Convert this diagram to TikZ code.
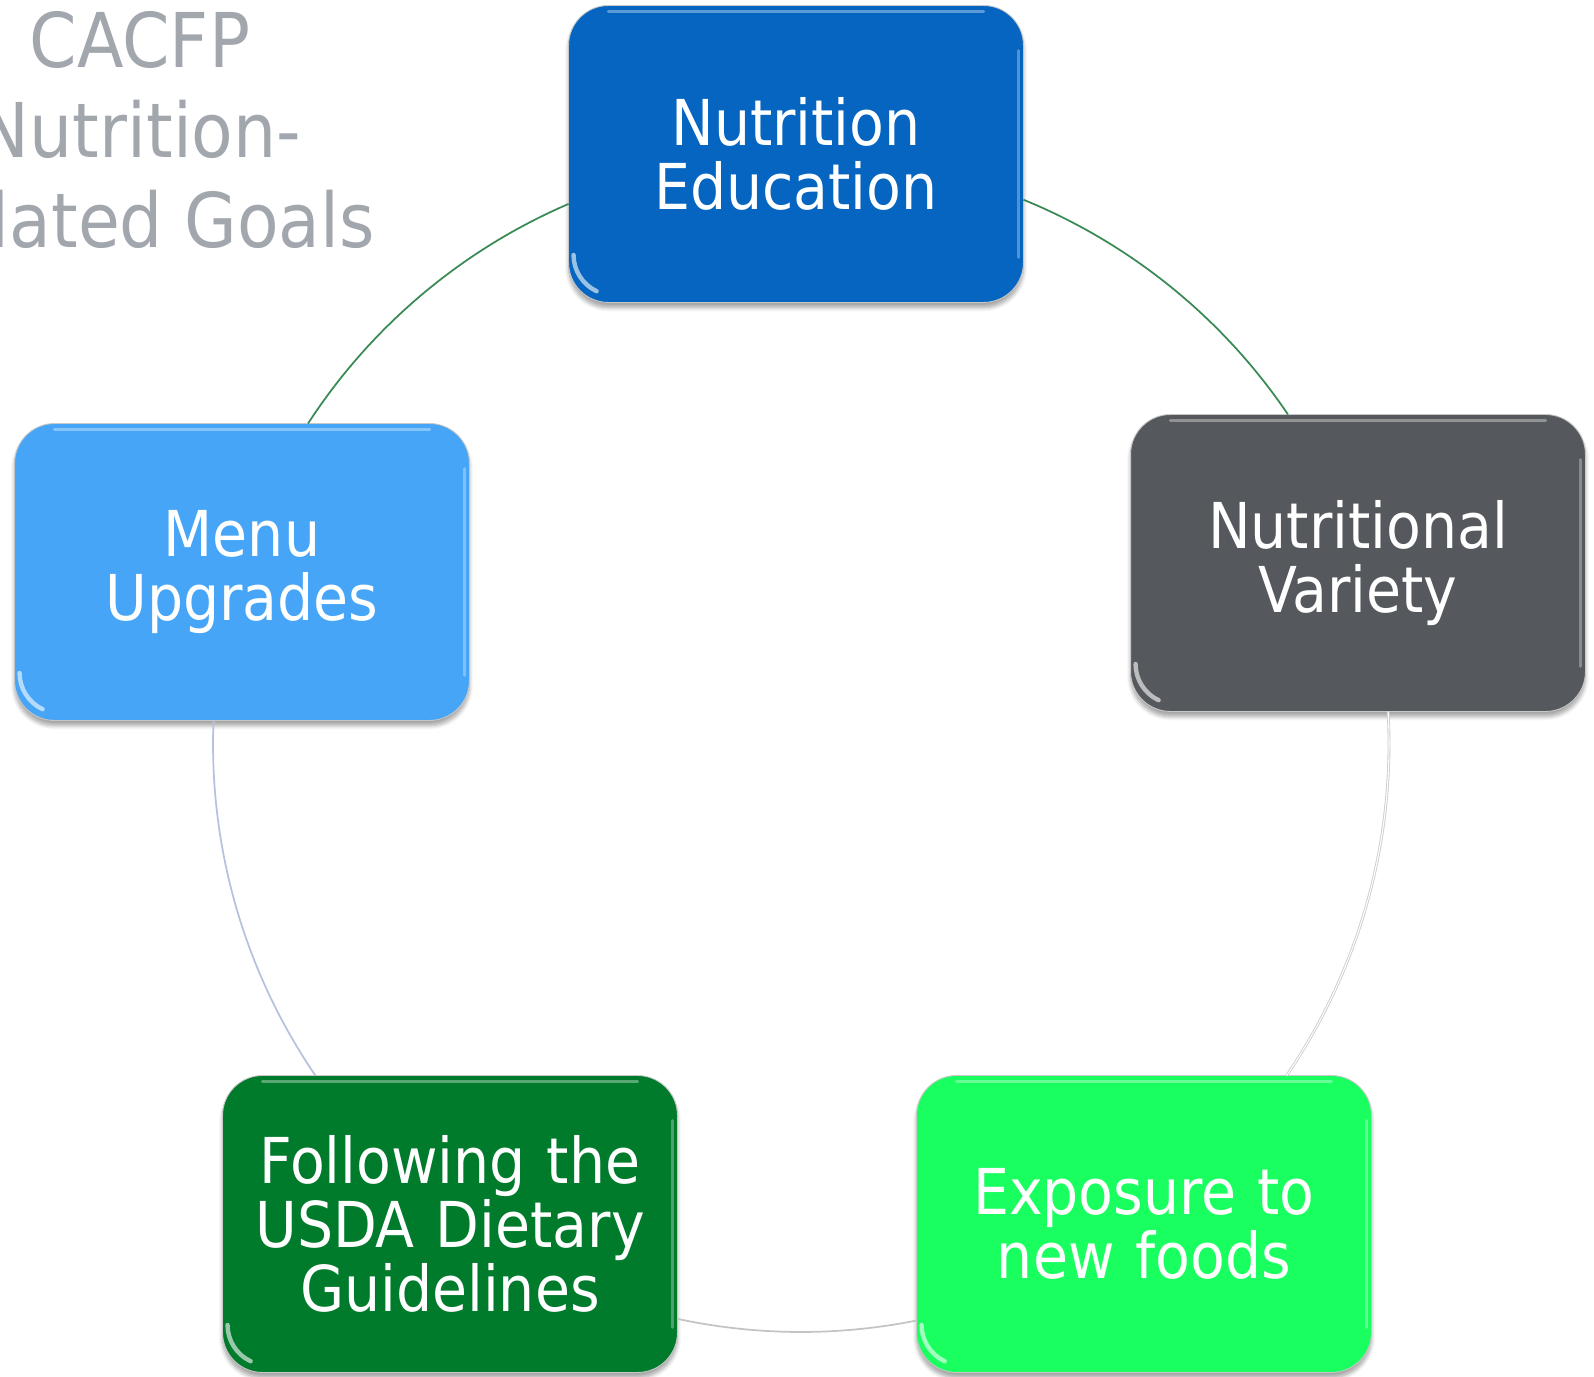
\documentclass[tikz,border=0pt]{standalone}
\usepackage{fontspec}
\setmainfont{DejaVu Sans Condensed}
\usetikzlibrary{shadows.blur}

\definecolor{eduBlue}{RGB}{5,101,192}
\definecolor{menuBlue}{RGB}{71,165,247}
\definecolor{varGray}{RGB}{85,88,92}
\definecolor{usdaGreen}{RGB}{0,122,43}
\definecolor{newGreen}{RGB}{26,255,96}
\definecolor{titleGray}{RGB}{162,166,173}
\definecolor{arcGreen}{RGB}{58,138,85}
\definecolor{arcLight}{RGB}{205,205,205}
\definecolor{arcMid}{RGB}{196,196,196}
\definecolor{arcBlue}{RGB}{182,194,222}

\tikzset{
  goal/.style={
    draw=black!22, line width=0.5pt,
    fill=#1, rounded corners=0.8cm,
    minimum width=9.1cm, minimum height=5.94cm, inner sep=0pt,
    text=white, align=center, text width=8.6cm,
    font=\fontsize{36}{36.5}\selectfont,
    blur shadow={shadow xshift=0pt, shadow yshift=-3pt, shadow blur steps=6, shadow opacity=35},
    path picture={
      % glossy rim along the top edge
      \draw[white, opacity=0.35, line width=2pt, line cap=round]
        ([xshift=0.8cm,yshift=-0.12cm]path picture bounding box.north west)
        -- ([xshift=-0.8cm,yshift=-0.12cm]path picture bounding box.north east);
      % gleam in the lower left corner
      \draw[white, opacity=0.6, line width=2.5pt, line cap=round]
        ([xshift=0.1cm,yshift=0.95cm]path picture bounding box.south west)
        arc[start angle=180, end angle=245, radius=0.8cm];
      % faint light strip on the right side
      \draw[white, opacity=0.3, line width=1.5pt, line cap=round]
        ([xshift=-0.1cm,yshift=-0.9cm]path picture bounding box.north east)
        -- ([xshift=-0.1cm,yshift=0.9cm]path picture bounding box.south east);
    }
  },
  link/.style={draw=#1, line width=1pt},
  faintlink/.style={draw=#1, line width=0.5pt, double=white, double distance=0.6pt}
}

\begin{document}
\begin{tikzpicture}[x=0.02cm, y=0.02cm]
  \useasboundingbox (0,0) rectangle (1594,1376);

  % title, partly cut off at the left edge
  \begin{scope}
    \clip (0,0) rectangle (1594,1376);
    \node[text=titleGray, align=center, font=\fontsize{43}{51}\selectfont]
      (title) at (140,1246) {CACFP\\Nutrition-\\Related Goals};
  \end{scope}

  % the five goals, on a circle of radius 588 around (801,632)
  \coordinate (ctr) at (801,632);
  \node[goal=eduBlue]   (edu)  at (796,1222) {Nutrition\\Education};
  \node[goal=varGray]   (var)  at (1358,813) {Nutritional\\Variety};
  \node[goal=newGreen]  (new)  at (1144,152) {Exposure to\\new foods};
  \node[goal=usdaGreen] (usda) at (450,152)  {Following the\\USDA Dietary\\Guidelines};
  \node[goal=menuBlue]  (menu) at (242,804)  {Menu\\Upgrades};

  % where the circle leaves each box
  \coordinate (eduR)  at ([shift={(67.77:588)}]ctr);
  \coordinate (varT)  at ([shift={(34.08:588)}]ctr);
  \coordinate (varB)  at ([shift={(3.17:588)}]ctr);
  \coordinate (newT)  at ([shift={(-34.32:588)}]ctr);
  \coordinate (newL)  at ([shift={(-78.67:588)}]ctr);
  \coordinate (usdaR) at ([shift={(-102.12:588)}]ctr);
  \coordinate (usdaT) at ([shift={(-145.68:588)}]ctr);
  \coordinate (menuB) at ([shift={(177.71:588)}]ctr);
  \coordinate (menuT) at ([shift={(146.97:588)}]ctr);
  \coordinate (eduL)  at ([shift={(113.29:588)}]ctr);

  % cycle connectors, clockwise
  \draw[link=arcGreen]      (eduR)  arc[start angle=67.77,   end angle=34.08,   radius=588];
  \draw[faintlink=arcLight] (varB)  arc[start angle=3.17,    end angle=-34.32,  radius=588];
  \draw[link=arcMid]        (newL)  arc[start angle=-78.67,  end angle=-102.12, radius=588];
  \draw[link=arcBlue]       (usdaT) arc[start angle=-145.68, end angle=-182.29, radius=588];
  \draw[link=arcGreen]      (menuT) arc[start angle=146.97,  end angle=113.29,  radius=588];
\end{tikzpicture}
\end{document}
